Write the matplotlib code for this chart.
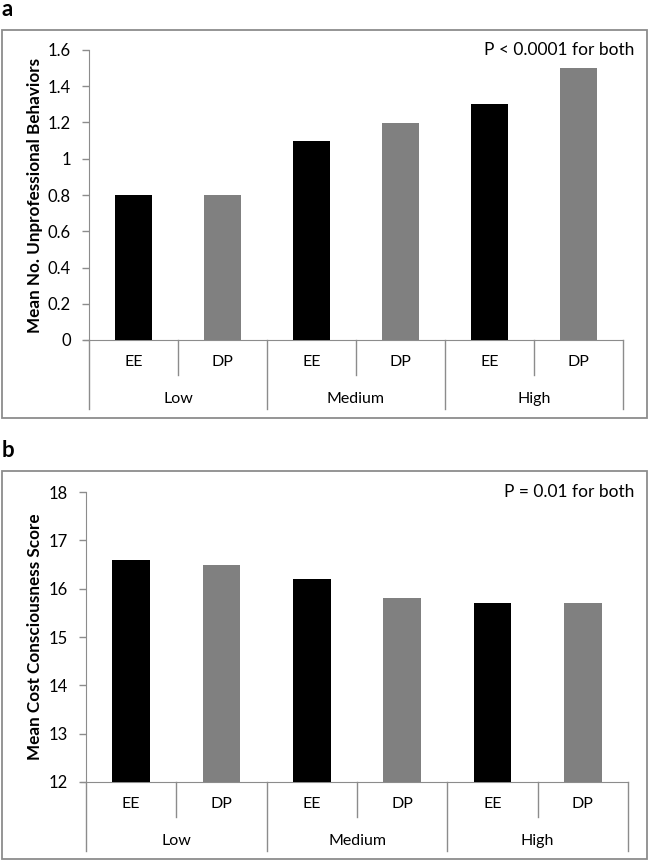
import numpy as np
import matplotlib
matplotlib.use("Agg")
import matplotlib.pyplot as plt
from matplotlib.patches import Rectangle
import matplotlib.transforms as mtransforms

plt.rcParams['font.family'] = ['Lato', 'DejaVu Sans']

# data
groups = ['Low', 'Medium', 'High']
measures = ['EE', 'DP', 'EE', 'DP', 'EE', 'DP']
unprof = [0.8, 0.8, 1.1, 1.2, 1.3, 1.5]
cost = [16.6, 16.5, 16.2, 15.8, 15.7, 15.7]
bar_colors = ['black', '#808080', 'black', '#808080', 'black', '#808080']

W, H = 649, 861
GRAY = '#8c8c8c'


def panel(fig, rect_px, box_px, label, vals, ylim, yticks, yticklabels, ylabel, note):
	# rect_px = (left, top, right, bottom) of axes in pixels
	l, t, r, b = rect_px
	ax = fig.add_axes([l / W, 1 - b / H, (r - l) / W, (b - t) / H])
	x = np.arange(len(vals))
	ax.bar(x, vals, width=0.42, color=bar_colors, zorder=3)
	ax.set_xlim(-0.5, len(vals) - 0.5)
	ax.set_ylim(*ylim)
	ax.set_yticks(yticks)
	ax.set_yticklabels(yticklabels, fontsize=12)
	ax.tick_params(axis='y', length=5, width=1, color=GRAY, pad=8)
	ax.set_xticks([])
	for s in ['top', 'right']:
		ax.spines[s].set_visible(False)
	ax.spines['left'].set_color(GRAY)
	ax.spines['bottom'].set_color(GRAY)
	ax.spines['bottom'].set_bounds(-0.5 - 5 / 89, len(vals) - 0.5)
	ax.set_ylabel(ylabel, fontsize=12.3, fontweight='bold')
	ax.yaxis.set_label_coords(-(l - 35) / (r - l), 0.5)
	ax.yaxis.label.set_va('center')
	fig.text(634 / W, 1 - t / H, note, ha='right', va='center', fontsize=12.5)

	# category box below the axis
	trans = mtransforms.blended_transform_factory(ax.transData, ax.transAxes)
	h = b - t
	short = -35 / h
	long_ = -69 / h
	for i in range(len(vals) + 1):
		xs = i - 0.5
		y1 = long_ if i % 2 == 0 else short
		ax.plot([xs, xs], [0, y1], color=GRAY, lw=1, transform=trans, clip_on=False)
	for i, m in enumerate(measures):
		ax.text(i, -22 / h, m, transform=trans, ha='center', va='center', fontsize=11.5)
	for j, g in enumerate(groups):
		ax.text(2 * j + 0.5, -59 / h, g, transform=trans, ha='center', va='center', fontsize=11.5)

	# outer frame and panel letter
	bl, bt, br, bb = box_px
	fig.patches.append(Rectangle((bl / W, 1 - bb / H), (br - bl) / W, (bb - bt) / H,
		transform=fig.transFigure, fill=False, edgecolor=GRAY, lw=1.3))
	fig.text(2 / W, 1 - (bt - 14) / H, label, fontsize=16, fontweight='bold', va='baseline', ha='left')
	return ax


fig = plt.figure(figsize=(W / 100, H / 100), dpi=100)

panel(fig, (89, 50, 623, 340), (2, 30, 647, 418), 'a', unprof, (0, 1.6),
	np.arange(0, 1.61, 0.2), ['0', '0.2', '0.4', '0.6', '0.8', '1', '1.2', '1.4', '1.6'],
	'Mean No. Unprofessional Behaviors', 'P < 0.0001 for both')

panel(fig, (86, 492, 628, 782), (2, 471, 647, 859), 'b', cost, (12, 18),
	np.arange(12, 19), [str(v) for v in range(12, 19)],
	'Mean Cost Consciousness Score', 'P = 0.01 for both')

fig.savefig('out.png', dpi=100)
